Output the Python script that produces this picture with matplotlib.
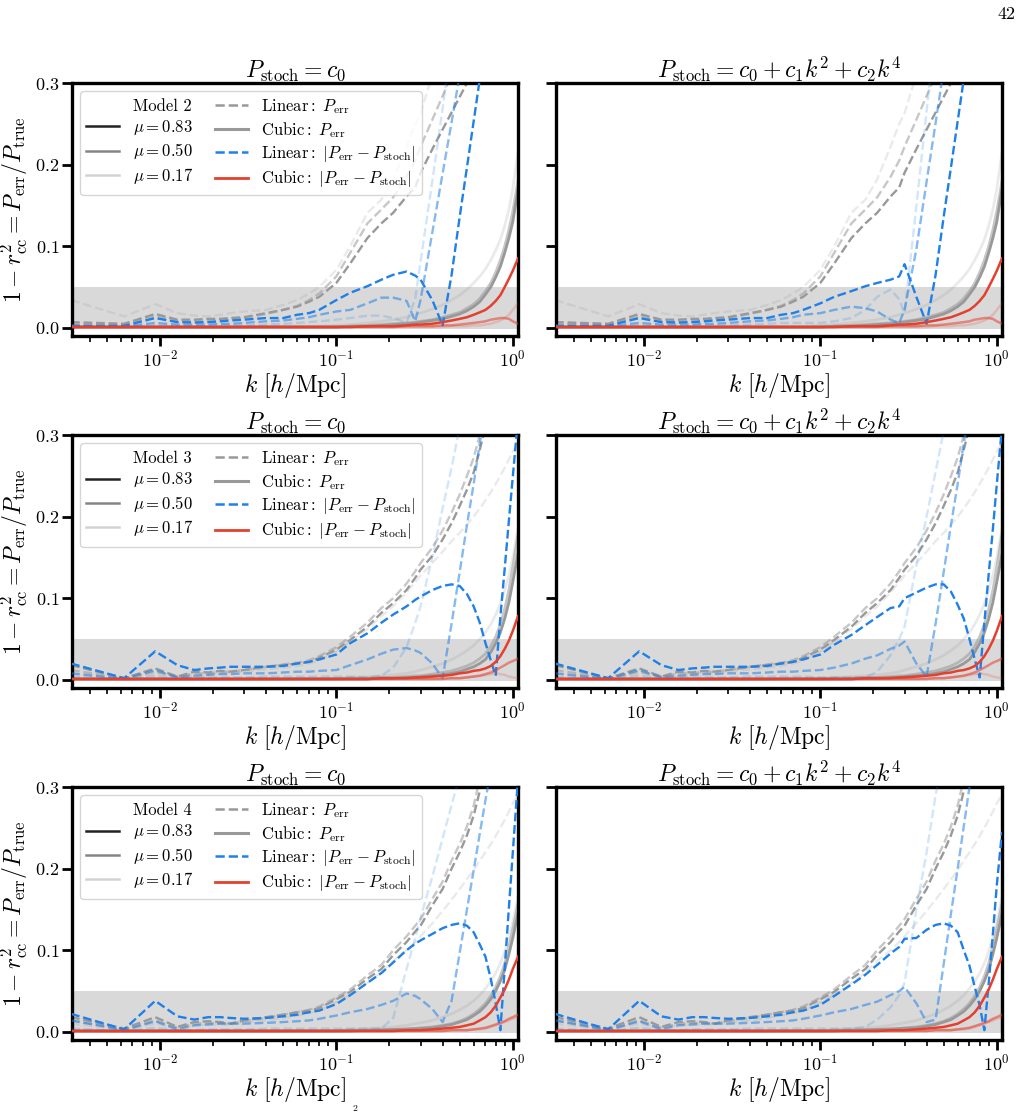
import matplotlib
matplotlib.use("Agg")
import matplotlib.pyplot as plt
from matplotlib.lines import Line2D

plt.rcParams["font.family"] = "serif"
plt.rcParams["font.serif"] = ["cmr10"]
plt.rcParams["mathtext.fontset"] = "cm"
plt.rcParams["axes.formatter.use_mathtext"] = True

# ─── k grid (h/Mpc) ────────────────────────────────────────────────────────────
K = [0.00314, 0.00628, 0.00942, 0.01257, 0.0157, 0.0188, 0.022, 0.0251, 0.03, 0.04, 0.05, 0.06, 0.07, 0.08,
     0.1, 0.12, 0.15, 0.18, 0.21, 0.25, 0.28, 0.3, 0.35, 0.4, 0.45, 0.5, 0.55, 0.6, 0.65, 0.7, 0.75, 0.8,
     0.85, 0.9, 0.95, 1.0, 1.07]

MU_LABELS = ["0.83", "0.50", "0.17"]
ALPHAS = [1.0, 0.55, 0.2]

# ─── Model 2 ───────────────────────────────────────────────────────────────────
M2_LIN_PERR = [
    [0.007, 0.005, 0.017, 0.010, 0.010, 0.011, 0.011, 0.012, 0.013, 0.018, 0.022, 0.026, 0.032, 0.038,
     0.055, 0.079, 0.110, 0.128, 0.141, 0.161, 0.172, 0.190, 0.219, 0.243, 0.264, 0.283, 0.300, 0.320,
     0.340, 0.360, 0.380, 0.400, 0.420, 0.440, 0.460, 0.480, 0.500],
    [0.005, 0.004, 0.014, 0.008, 0.008, 0.009, 0.010, 0.011, 0.012, 0.017, 0.022, 0.027, 0.034, 0.042,
     0.063, 0.092, 0.128, 0.145, 0.160, 0.185, 0.205, 0.222, 0.255, 0.284, 0.310, 0.340, 0.370, 0.400,
     0.430, 0.460, 0.490, 0.520, 0.550, 0.580, 0.610, 0.640, 0.670],
    [0.034, 0.014, 0.029, 0.018, 0.015, 0.014, 0.016, 0.018, 0.020, 0.022, 0.028, 0.034, 0.042, 0.050,
     0.071, 0.100, 0.141, 0.157, 0.182, 0.222, 0.250, 0.263, 0.310, 0.350, 0.390, 0.430, 0.470, 0.510,
     0.550, 0.590, 0.630, 0.670, 0.710, 0.750, 0.790, 0.830, 0.870],
]
M2_CUB_PERR = [
    [0.001, 0.001, 0.001, 0.001, 0.001, 0.001, 0.001, 0.001, 0.001, 0.001, 0.001, 0.001, 0.001, 0.001,
     0.001, 0.002, 0.002, 0.003, 0.004, 0.005, 0.006, 0.007, 0.009, 0.011, 0.014, 0.017, 0.021, 0.026,
     0.032, 0.041, 0.050, 0.062, 0.075, 0.092, 0.110, 0.130, 0.170],
    [0.001, 0.001, 0.001, 0.001, 0.001, 0.001, 0.001, 0.001, 0.001, 0.001, 0.001, 0.001, 0.001, 0.001,
     0.001, 0.002, 0.003, 0.004, 0.005, 0.006, 0.007, 0.008, 0.010, 0.013, 0.016, 0.019, 0.024, 0.029,
     0.036, 0.045, 0.055, 0.068, 0.083, 0.100, 0.120, 0.143, 0.180],
    [0.002, 0.001, 0.002, 0.001, 0.001, 0.001, 0.001, 0.001, 0.001, 0.002, 0.002, 0.002, 0.002, 0.002,
     0.003, 0.004, 0.006, 0.008, 0.010, 0.013, 0.016, 0.018, 0.023, 0.028, 0.034, 0.040, 0.047, 0.055,
     0.063, 0.072, 0.083, 0.095, 0.108, 0.125, 0.145, 0.170, 0.215],
]
M2_CUB_RES = [
    [0.001, 0.001, 0.001, 0.001, 0.001, 0.001, 0.001, 0.001, 0.001, 0.001, 0.001, 0.001, 0.001, 0.001,
     0.001, 0.001, 0.002, 0.002, 0.002, 0.003, 0.004, 0.004, 0.005, 0.007, 0.009, 0.011, 0.013, 0.016,
     0.019, 0.022, 0.027, 0.033, 0.040, 0.050, 0.060, 0.070, 0.085],
    [0.001, 0.001, 0.001, 0.001, 0.001, 0.001, 0.001, 0.001, 0.001, 0.001, 0.001, 0.001, 0.001, 0.001,
     0.001, 0.001, 0.001, 0.001, 0.001, 0.002, 0.002, 0.002, 0.002, 0.003, 0.003, 0.004, 0.005, 0.006,
     0.007, 0.008, 0.010, 0.011, 0.012, 0.012, 0.011, 0.008, 0.005],
    [0.001, 0.001, 0.001, 0.001, 0.001, 0.001, 0.001, 0.001, 0.001, 0.001, 0.001, 0.001, 0.001, 0.001,
     0.001, 0.001, 0.001, 0.001, 0.001, 0.001, 0.001, 0.001, 0.001, 0.001, 0.002, 0.002, 0.002, 0.003,
     0.003, 0.004, 0.005, 0.007, 0.009, 0.012, 0.016, 0.022, 0.030],
]
M2_LIN_RES_C0 = [
    [0.0025, 0.0025, 0.012, 0.007, 0.0065, 0.007, 0.008, 0.009, 0.010, 0.012, 0.012, 0.016, 0.018, 0.022,
     0.034, 0.043, 0.051, 0.059, 0.065, 0.069, 0.064, 0.059, 0.034, 0.003, 0.065, 0.136, 0.197, 0.253,
     0.305, 0.350, 0.390, 0.430, 0.470, 0.510, 0.550, 0.590, 0.630],
    [0.002, 0.002, 0.006, 0.004, 0.004, 0.004, 0.005, 0.005, 0.006, 0.008, 0.009, 0.011, 0.013, 0.016,
     0.020, 0.022, 0.030, 0.037, 0.037, 0.033, 0.008, 0.034, 0.117, 0.189, 0.252, 0.310, 0.360, 0.410,
     0.460, 0.510, 0.560, 0.610, 0.660, 0.710, 0.760, 0.810, 0.860],
    [0.001, 0.001, 0.003, 0.002, 0.002, 0.002, 0.003, 0.003, 0.003, 0.004, 0.005, 0.006, 0.007, 0.008,
     0.010, 0.012, 0.015, 0.015, 0.012, 0.006, 0.036, 0.081, 0.180, 0.268, 0.350, 0.430, 0.500, 0.560,
     0.620, 0.680, 0.740, 0.800, 0.860, 0.920, 0.980, 1.040, 1.100],
]
M2_LIN_RES_C024 = [
    [0.0025, 0.0025, 0.012, 0.007, 0.0065, 0.007, 0.008, 0.009, 0.010, 0.012, 0.012, 0.016, 0.018, 0.022,
     0.030, 0.038, 0.045, 0.051, 0.055, 0.059, 0.063, 0.078, 0.038, 0.005, 0.065, 0.136, 0.197, 0.253,
     0.305, 0.350, 0.390, 0.430, 0.470, 0.510, 0.550, 0.590, 0.630],
    [0.002, 0.002, 0.006, 0.004, 0.004, 0.004, 0.005, 0.005, 0.006, 0.008, 0.009, 0.011, 0.013, 0.016,
     0.018, 0.022, 0.026, 0.024, 0.020, 0.010, 0.006, 0.022, 0.096, 0.179, 0.251, 0.317, 0.380, 0.440,
     0.500, 0.560, 0.620, 0.680, 0.740, 0.800, 0.860, 0.920, 0.980],
    [0.001, 0.001, 0.003, 0.002, 0.002, 0.002, 0.003, 0.003, 0.003, 0.004, 0.005, 0.006, 0.006, 0.006,
     0.006, 0.008, 0.012, 0.022, 0.038, 0.047, 0.035, 0.018, 0.149, 0.265, 0.370, 0.470, 0.570, 0.670,
     0.770, 0.870, 0.970, 1.070, 1.170, 1.270, 1.370, 1.470, 1.570],
]

# ─── Model 3 ───────────────────────────────────────────────────────────────────
M3_LIN_PERR = [
    [0.018, 0.002, 0.014, 0.004, 0.010, 0.009, 0.011, 0.010, 0.012, 0.016, 0.018, 0.020, 0.022, 0.027,
     0.037, 0.049, 0.065, 0.082, 0.094, 0.110, 0.125, 0.135, 0.152, 0.172, 0.192, 0.213, 0.233, 0.254,
     0.282, 0.310, 0.340, 0.370, 0.400, 0.430, 0.460, 0.490, 0.520],
    [0.012, 0.002, 0.010, 0.004, 0.008, 0.008, 0.010, 0.010, 0.012, 0.016, 0.019, 0.021, 0.024, 0.029,
     0.040, 0.053, 0.070, 0.088, 0.100, 0.118, 0.133, 0.143, 0.162, 0.183, 0.205, 0.227, 0.250, 0.272,
     0.300, 0.330, 0.360, 0.390, 0.420, 0.450, 0.480, 0.510, 0.540],
    [0.008, 0.002, 0.008, 0.004, 0.006, 0.006, 0.008, 0.008, 0.010, 0.013, 0.015, 0.017, 0.020, 0.024,
     0.035, 0.047, 0.062, 0.078, 0.090, 0.107, 0.120, 0.128, 0.143, 0.157, 0.170, 0.180, 0.190, 0.200,
     0.210, 0.220, 0.230, 0.240, 0.250, 0.260, 0.270, 0.280, 0.290],
]
M3_CUB_PERR = [
    [0.001, 0.001, 0.001, 0.001, 0.001, 0.001, 0.001, 0.001, 0.001, 0.001, 0.001, 0.001, 0.001, 0.001,
     0.001, 0.001, 0.001, 0.002, 0.002, 0.003, 0.003, 0.004, 0.005, 0.006, 0.008, 0.010, 0.013, 0.016,
     0.020, 0.025, 0.034, 0.045, 0.058, 0.075, 0.095, 0.120, 0.155],
    [0.001, 0.001, 0.001, 0.001, 0.001, 0.001, 0.001, 0.001, 0.001, 0.001, 0.001, 0.001, 0.001, 0.001,
     0.001, 0.002, 0.002, 0.003, 0.003, 0.004, 0.005, 0.005, 0.007, 0.009, 0.011, 0.014, 0.017, 0.021,
     0.026, 0.032, 0.041, 0.053, 0.068, 0.087, 0.110, 0.138, 0.178],
    [0.002, 0.001, 0.002, 0.001, 0.001, 0.001, 0.001, 0.001, 0.001, 0.001, 0.001, 0.002, 0.002, 0.002,
     0.002, 0.003, 0.004, 0.005, 0.006, 0.008, 0.010, 0.012, 0.016, 0.020, 0.025, 0.030, 0.036, 0.042,
     0.050, 0.058, 0.068, 0.080, 0.093, 0.110, 0.128, 0.150, 0.185],
]
M3_CUB_RES = [
    [0.001, 0.001, 0.001, 0.001, 0.001, 0.001, 0.001, 0.001, 0.001, 0.001, 0.001, 0.001, 0.001, 0.001,
     0.001, 0.001, 0.001, 0.002, 0.002, 0.002, 0.003, 0.003, 0.004, 0.005, 0.006, 0.008, 0.009, 0.011,
     0.012, 0.014, 0.017, 0.022, 0.029, 0.038, 0.048, 0.060, 0.078],
    [0.001, 0.001, 0.001, 0.001, 0.001, 0.001, 0.001, 0.001, 0.001, 0.001, 0.001, 0.001, 0.001, 0.001,
     0.001, 0.001, 0.001, 0.001, 0.001, 0.001, 0.001, 0.001, 0.001, 0.001, 0.002, 0.002, 0.003, 0.004,
     0.005, 0.007, 0.009, 0.012, 0.015, 0.018, 0.021, 0.023, 0.026],
    [0.001, 0.001, 0.001, 0.001, 0.001, 0.001, 0.001, 0.001, 0.001, 0.001, 0.001, 0.001, 0.001, 0.001,
     0.001, 0.001, 0.001, 0.001, 0.001, 0.001, 0.001, 0.001, 0.001, 0.002, 0.002, 0.002, 0.003, 0.004,
     0.005, 0.006, 0.007, 0.008, 0.007, 0.006, 0.004, 0.003, 0.002],
]
M3_LIN_RES_C0 = [
    [0.020, 0.002, 0.035, 0.018, 0.012, 0.014, 0.015, 0.016, 0.016, 0.016, 0.017, 0.020, 0.022, 0.025,
     0.031, 0.045, 0.057, 0.070, 0.080, 0.090, 0.098, 0.102, 0.110, 0.115, 0.117, 0.115, 0.105, 0.090,
     0.070, 0.045, 0.024, 0.005, 0.077, 0.137, 0.195, 0.249, 0.320],
    [0.008, 0.001, 0.012, 0.003, 0.005, 0.006, 0.007, 0.007, 0.008, 0.008, 0.009, 0.010, 0.010, 0.011,
     0.012, 0.018, 0.025, 0.032, 0.037, 0.039, 0.036, 0.033, 0.020, 0.002, 0.069, 0.132, 0.190, 0.240,
     0.290, 0.330, 0.370, 0.410, 0.450, 0.490, 0.530, 0.570, 0.610],
    [0.004, 0.001, 0.005, 0.002, 0.003, 0.003, 0.003, 0.003, 0.003, 0.004, 0.004, 0.004, 0.004, 0.004,
     0.004, 0.004, 0.003, 0.005, 0.015, 0.040, 0.070, 0.090, 0.150, 0.210, 0.260, 0.310, 0.360, 0.410,
     0.460, 0.510, 0.560, 0.610, 0.660, 0.710, 0.760, 0.810, 0.860],
]
M3_LIN_RES_C024 = [
    [0.020, 0.002, 0.035, 0.018, 0.012, 0.014, 0.015, 0.016, 0.016, 0.016, 0.017, 0.020, 0.022, 0.025,
     0.031, 0.043, 0.055, 0.067, 0.077, 0.088, 0.090, 0.100, 0.107, 0.113, 0.117, 0.117, 0.108, 0.092,
     0.075, 0.050, 0.025, 0.003, 0.070, 0.130, 0.185, 0.240, 0.310],
    [0.008, 0.001, 0.012, 0.003, 0.005, 0.006, 0.007, 0.007, 0.008, 0.008, 0.009, 0.010, 0.010, 0.011,
     0.012, 0.015, 0.020, 0.026, 0.030, 0.038, 0.042, 0.047, 0.020, 0.004, 0.069, 0.132, 0.190, 0.240,
     0.290, 0.330, 0.370, 0.410, 0.450, 0.490, 0.530, 0.570, 0.610],
    [0.004, 0.001, 0.005, 0.002, 0.003, 0.003, 0.003, 0.003, 0.003, 0.004, 0.004, 0.004, 0.004, 0.004,
     0.003, 0.003, 0.003, 0.003, 0.010, 0.030, 0.050, 0.065, 0.140, 0.200, 0.255, 0.305, 0.355, 0.405,
     0.455, 0.505, 0.555, 0.605, 0.655, 0.705, 0.755, 0.805, 0.855],
]

# ─── Model 4 ───────────────────────────────────────────────────────────────────
M4_LIN_PERR = [
    [0.018, 0.004, 0.018, 0.006, 0.012, 0.013, 0.012, 0.010, 0.014, 0.018, 0.021, 0.024, 0.026, 0.029,
     0.040, 0.049, 0.065, 0.077, 0.094, 0.110, 0.123, 0.130, 0.155, 0.175, 0.200, 0.220, 0.241, 0.265,
     0.295, 0.330, 0.360, 0.390, 0.420, 0.450, 0.480, 0.510, 0.540],
    [0.014, 0.003, 0.014, 0.005, 0.010, 0.011, 0.011, 0.010, 0.013, 0.017, 0.021, 0.024, 0.027, 0.031,
     0.042, 0.052, 0.069, 0.082, 0.100, 0.117, 0.130, 0.138, 0.163, 0.184, 0.210, 0.230, 0.252, 0.277,
     0.310, 0.340, 0.370, 0.400, 0.430, 0.460, 0.490, 0.520, 0.550],
    [0.010, 0.003, 0.010, 0.005, 0.008, 0.009, 0.009, 0.009, 0.011, 0.014, 0.017, 0.020, 0.023, 0.026,
     0.036, 0.045, 0.060, 0.073, 0.087, 0.100, 0.110, 0.117, 0.133, 0.148, 0.162, 0.175, 0.187, 0.198,
     0.210, 0.220, 0.230, 0.240, 0.250, 0.260, 0.270, 0.280, 0.290],
]
M4_CUB_PERR = [
    [0.001, 0.001, 0.001, 0.001, 0.001, 0.001, 0.001, 0.001, 0.001, 0.001, 0.001, 0.001, 0.001, 0.001,
     0.001, 0.001, 0.002, 0.002, 0.003, 0.003, 0.004, 0.004, 0.005, 0.007, 0.009, 0.012, 0.015, 0.020,
     0.025, 0.032, 0.040, 0.050, 0.062, 0.076, 0.095, 0.115, 0.145],
    [0.001, 0.001, 0.001, 0.001, 0.001, 0.001, 0.001, 0.001, 0.001, 0.001, 0.001, 0.001, 0.001, 0.001,
     0.001, 0.002, 0.002, 0.003, 0.003, 0.004, 0.004, 0.005, 0.006, 0.008, 0.010, 0.013, 0.017, 0.022,
     0.028, 0.035, 0.044, 0.055, 0.068, 0.084, 0.104, 0.126, 0.157],
    [0.002, 0.001, 0.002, 0.001, 0.001, 0.001, 0.001, 0.001, 0.001, 0.001, 0.001, 0.002, 0.002, 0.002,
     0.002, 0.003, 0.004, 0.005, 0.006, 0.008, 0.010, 0.011, 0.014, 0.018, 0.022, 0.027, 0.032, 0.038,
     0.045, 0.053, 0.062, 0.072, 0.084, 0.098, 0.115, 0.135, 0.165],
]
M4_CUB_RES = [
    [0.001, 0.001, 0.001, 0.001, 0.001, 0.001, 0.001, 0.001, 0.001, 0.001, 0.001, 0.001, 0.001, 0.001,
     0.001, 0.001, 0.001, 0.001, 0.001, 0.002, 0.002, 0.002, 0.003, 0.004, 0.005, 0.006, 0.008, 0.010,
     0.014, 0.018, 0.024, 0.032, 0.042, 0.052, 0.064, 0.077, 0.092],
    [0.001, 0.001, 0.001, 0.001, 0.001, 0.001, 0.001, 0.001, 0.001, 0.001, 0.001, 0.001, 0.001, 0.001,
     0.001, 0.001, 0.001, 0.001, 0.001, 0.001, 0.001, 0.001, 0.001, 0.001, 0.002, 0.002, 0.002, 0.003,
     0.004, 0.005, 0.007, 0.009, 0.011, 0.013, 0.016, 0.018, 0.021],
    [0.001, 0.001, 0.001, 0.001, 0.001, 0.001, 0.001, 0.001, 0.001, 0.001, 0.001, 0.001, 0.001, 0.001,
     0.001, 0.001, 0.001, 0.001, 0.001, 0.001, 0.001, 0.001, 0.001, 0.001, 0.002, 0.002, 0.002, 0.003,
     0.003, 0.004, 0.006, 0.008, 0.010, 0.012, 0.014, 0.016, 0.018],
]
M4_LIN_RES_C0 = [
    [0.022, 0.003, 0.038, 0.019, 0.015, 0.018, 0.018, 0.017, 0.016, 0.017, 0.019, 0.021, 0.024, 0.026,
     0.034, 0.045, 0.060, 0.072, 0.085, 0.100, 0.108, 0.112, 0.120, 0.127, 0.131, 0.133, 0.130, 0.122,
     0.107, 0.092, 0.065, 0.035, 0.002, 0.078, 0.152, 0.220, 0.310],
    [0.014, 0.002, 0.013, 0.003, 0.008, 0.009, 0.010, 0.010, 0.010, 0.011, 0.012, 0.013, 0.014, 0.016,
     0.020, 0.024, 0.028, 0.033, 0.038, 0.047, 0.044, 0.040, 0.028, 0.012, 0.038, 0.097, 0.150, 0.198,
     0.243, 0.284, 0.320, 0.360, 0.400, 0.440, 0.480, 0.520, 0.560],
    [0.004, 0.001, 0.005, 0.002, 0.002, 0.003, 0.003, 0.003, 0.003, 0.004, 0.004, 0.004, 0.004, 0.004,
     0.004, 0.004, 0.004, 0.004, 0.017, 0.077, 0.115, 0.140, 0.190, 0.237, 0.278, 0.314, 0.350, 0.390,
     0.430, 0.470, 0.510, 0.550, 0.590, 0.630, 0.670, 0.710, 0.750],
]
M4_LIN_RES_C024 = [
    [0.022, 0.003, 0.038, 0.019, 0.015, 0.018, 0.018, 0.017, 0.016, 0.017, 0.019, 0.021, 0.024, 0.026,
     0.033, 0.044, 0.058, 0.070, 0.082, 0.096, 0.104, 0.114, 0.115, 0.125, 0.131, 0.133, 0.130, 0.122,
     0.100, 0.081, 0.055, 0.032, 0.002, 0.060, 0.120, 0.180, 0.245],
    [0.014, 0.002, 0.013, 0.003, 0.008, 0.009, 0.010, 0.010, 0.010, 0.011, 0.012, 0.013, 0.014, 0.016,
     0.020, 0.024, 0.028, 0.033, 0.037, 0.045, 0.050, 0.055, 0.035, 0.012, 0.015, 0.083, 0.145, 0.200,
     0.252, 0.300, 0.345, 0.390, 0.435, 0.480, 0.525, 0.570, 0.615],
    [0.004, 0.001, 0.005, 0.002, 0.002, 0.003, 0.003, 0.003, 0.003, 0.004, 0.004, 0.004, 0.004, 0.004,
     0.004, 0.004, 0.004, 0.006, 0.015, 0.030, 0.045, 0.060, 0.150, 0.220, 0.290, 0.340, 0.390, 0.440,
     0.490, 0.540, 0.590, 0.640, 0.690, 0.740, 0.790, 0.840, 0.890],
]

MODELS = [
    ("Model 2", M2_LIN_PERR, M2_CUB_PERR, M2_CUB_RES, M2_LIN_RES_C0, M2_LIN_RES_C024),
    ("Model 3", M3_LIN_PERR, M3_CUB_PERR, M3_CUB_RES, M3_LIN_RES_C0, M3_LIN_RES_C024),
    ("Model 4", M4_LIN_PERR, M4_CUB_PERR, M4_CUB_RES, M4_LIN_RES_C0, M4_LIN_RES_C024),
]
TITLES = [r"$P_{\rm stoch} = c_0$", r"$P_{\rm stoch} = c_0 + c_1 k^2 + c_2 k^4$"]

GRAY = "#999999"
BLUE = "#1f80e8"
RED = "#e5402e"

# ─── Layout ────────────────────────────────────────────────────────────────────
W, H = 1022, 1120
COL_X = [72, 556]
AX_W = 446
ROW_TOP = [83, 435, 787]
AX_H = 253

fig = plt.figure(figsize=(W / 100, H / 100), dpi=100)

for row, (model, lin_perr, cub_perr, cub_res, res_c0, res_c024) in enumerate(MODELS):
    for col in range(2):
        rect = [COL_X[col] / W, 1 - (ROW_TOP[row] + AX_H) / H, AX_W / W, AX_H / H]
        ax = fig.add_axes(rect)
        lin_res = res_c0 if col == 0 else res_c024

        ax.axhspan(-0.001, 0.05, color="#d9d9d9", lw=0, zorder=0)
        for i, a in enumerate(ALPHAS):
            ax.plot(K, lin_perr[i], color=GRAY, ls="--", lw=1.7, alpha=a, zorder=2)
            ax.plot(K, cub_perr[i], color=GRAY, ls="-", lw=2.0, alpha=a, zorder=2)
        for i, a in enumerate(ALPHAS):
            ax.plot(K, lin_res[i], color=BLUE, ls="--", lw=1.7, alpha=a, zorder=3)
        for i, a in enumerate(ALPHAS):
            ax.plot(K, cub_res[i], color=RED, ls="-", lw=1.8, alpha=a, zorder=4)

        ax.set_xscale("log")
        ax.set_xlim(0.00318, 1.07)
        ax.set_ylim(-0.01, 0.3)
        ax.set_yticks([0.0, 0.1, 0.2, 0.3])
        ax.set_title(TITLES[col], fontsize=17, pad=4)
        ax.set_xlabel(r"$k\ [h/{\rm Mpc}]$", fontsize=17, labelpad=1)
        for sp in ax.spines.values():
            sp.set_linewidth(2.4)
        ax.tick_params(which="major", length=7, width=2.0, labelsize=13, pad=2)
        ax.tick_params(which="minor", length=4, width=1.2)
        if col == 0:
            ax.set_ylabel(r"$1 - r_{\rm cc}^2 = P_{\rm err}/P_{\rm true}$", fontsize=17)
            ax.yaxis.set_label_coords(-0.094, 0.5)
            handles = [Line2D([], [], color="none")]
            labels = [model]
            for lab, a in zip(MU_LABELS, ALPHAS):
                handles.append(Line2D([], [], color="#222222", alpha=a, lw=1.8))
                labels.append(r"$\mu = %s$" % lab)
            handles += [
                Line2D([], [], color=GRAY, ls="--", lw=1.8),
                Line2D([], [], color=GRAY, ls="-", lw=2.2),
                Line2D([], [], color=BLUE, ls="--", lw=1.8),
                Line2D([], [], color=RED, ls="-", lw=2.0),
            ]
            labels += [
                r"${\rm Linear}:\ P_{\rm err}$",
                r"${\rm Cubic}:\ P_{\rm err}$",
                r"${\rm Linear}:\ |P_{\rm err} - P_{\rm stoch}|$",
                r"${\rm Cubic}:\ |P_{\rm err} - P_{\rm stoch}|$",
            ]
            ax.legend(handles, labels, ncol=2, loc="upper left", fontsize=12,
                      labelspacing=0.25, columnspacing=1.3, handletextpad=0.8,
                      borderaxespad=0.5, borderpad=0.35)
        else:
            ax.tick_params(labelleft=False)

fig.text(1016 / W, 1 - 14 / H, "42", ha="right", va="center", fontsize=13)
fig.text(355 / W, 1 - 1109 / H, "2", ha="center", va="center", fontsize=7)

fig.savefig("out.png", dpi=100)
